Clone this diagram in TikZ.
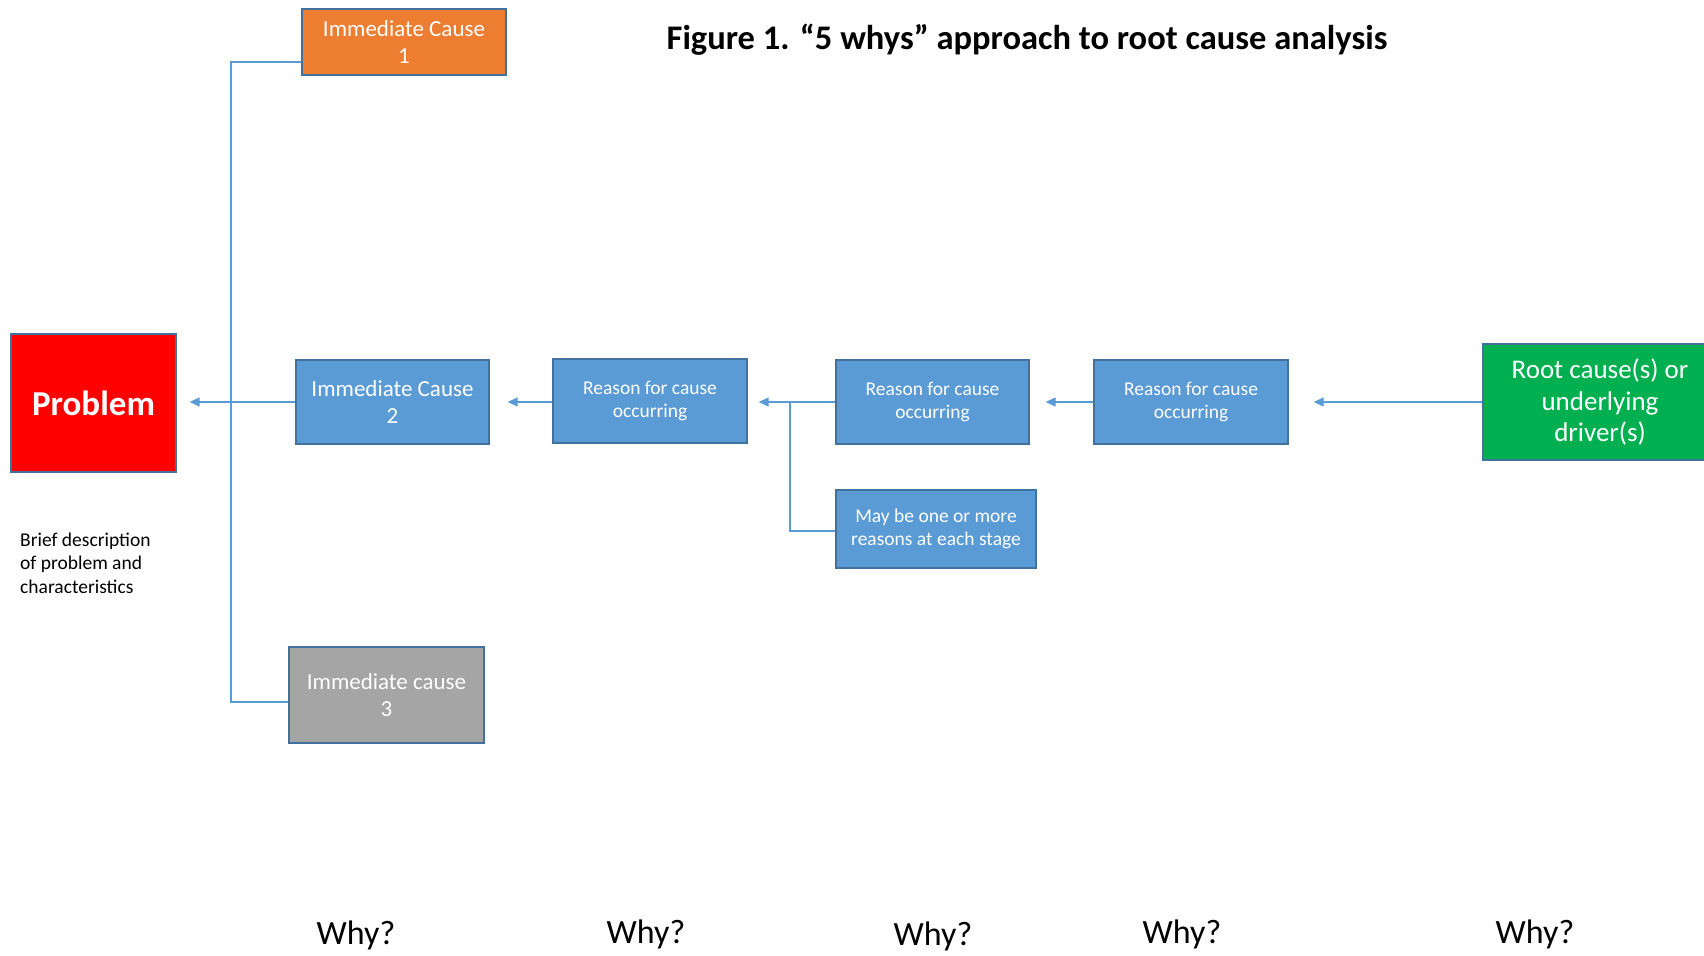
\documentclass[tikz,border=0pt]{standalone}
\usepackage{fontspec}
\setmainfont{Carlito}
\usetikzlibrary{arrows.meta,calc}
\definecolor{obluedark}{HTML}{41719C}
\definecolor{oblue}{HTML}{5B9BD5}
\definecolor{oorange}{HTML}{ED7D31}
\definecolor{ogreen}{HTML}{00B050}
\definecolor{ogrey}{HTML}{A5A5A5}
\definecolor{ored}{HTML}{FF0000}
\tikzset{
  box/.style={draw=obluedark, line width=1.3pt, text=white, align=center, inner sep=2pt},
  bigtxt/.style={font=\fontsize{23}{27}\selectfont},
  smalltxt/.style={font=\fontsize{19.5}{23.5}\selectfont},
  conn/.style={draw=oblue, line width=1.3pt},
  arr/.style={conn, -{Triangle[length=10pt,width=9pt]}},
  why/.style={font=\fontsize{34}{39}\selectfont}
}
\begin{document}
\begin{tikzpicture}[x=1pt,y=1pt]
\useasboundingbox (0,0) rectangle (1704,-955);
% title
\node[font=\bfseries\fontsize{34.5}{40}\selectfont] (title) at (1027,-40) {Figure 1. “5 whys” approach to root cause analysis};
% nodes
\node[box, fill=oorange, bigtxt, minimum width=204pt, minimum height=66pt] (ic1) at (404,-42) {Immediate Cause\\1};
\node[box, fill=ored, minimum width=165pt, minimum height=138pt, font=\bfseries\fontsize{35}{40}\selectfont] (prob) at (93.5,-403) {Problem};
\node[box, fill=oblue, bigtxt, minimum width=193pt, minimum height=84pt] (ic2) at (392.5,-402) {Immediate Cause\\2};
\node[box, fill=oblue, smalltxt, minimum width=194pt, minimum height=84pt] (r1) at (650,-401) {Reason for cause\\occurring};
\node[box, fill=oblue, smalltxt, minimum width=193pt, minimum height=84pt] (r2) at (932.5,-402) {Reason for cause\\occurring};
\node[box, fill=oblue, smalltxt, minimum width=200pt, minimum height=78pt] (m) at (936,-529) {May be one or more\\reasons at each stage};
\node[box, fill=oblue, smalltxt, minimum width=194pt, minimum height=84pt] (r3) at (1191,-402) {Reason for cause\\occurring};
\node[box, fill=ogreen, minimum width=234pt, minimum height=116pt, font=\fontsize{27}{31.5}\selectfont] (root) at (1600,-402) {Root cause(s) or\\underlying\\driver(s)};
\node[box, fill=ogrey, bigtxt, minimum width=195pt, minimum height=96pt] (ic3) at (386.5,-695) {Immediate cause\\3};
% description
\node[anchor=west, align=left, inner sep=0pt, font=\fontsize{19.5}{23.3}\selectfont] (desc) at (20,-563) {Brief description\\of problem and\\characteristics};
% why labels
\node[why] (w1) at (356,-935) {Why?};
\node[why] (w2) at (646,-934) {Why?};
\node[why] (w3) at (933,-936) {Why?};
\node[why] (w4) at (1182,-934) {Why?};
\node[why] (w5) at (1535,-934) {Why?};
% tree connector
\coordinate (tA) at (231,-62);
\coordinate (tB) at (231,-702);
\draw[conn] (ic1.west |- tA) -- (tA) -- (tB) -- (ic3.west |- tB);
% arrows
\draw[arr, shorten >=13pt] (ic2.west) -- (prob.east |- ic2.west);
\draw[arr, shorten >=18pt] (r1.west |- ic2.east) -- (ic2.east);
\draw[arr, shorten >=11pt] (r2.west) -- (r1.east |- r2.west);
\draw[arr, shorten >=16pt] (r3.west) -- (r2.east);
\draw[arr, shorten >=25pt] (root.west) -- (r3.east);
% branch
\coordinate (bA) at (790,-402);
\coordinate (bB) at (790,-531);
\draw[conn] (bA) -- (bB) -- (m.west |- bB);
\end{tikzpicture}
\end{document}
